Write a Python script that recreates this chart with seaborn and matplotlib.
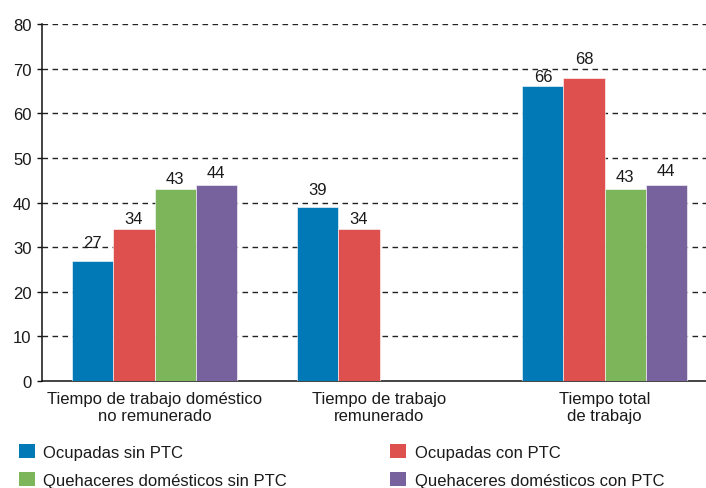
import pandas as pd
import matplotlib
matplotlib.use("Agg")
import matplotlib.pyplot as plt
from matplotlib.patches import Patch
import seaborn as sns

# ---- data -------------------------------------------------------------
categories = [
    "Tiempo de trabajo doméstico\nno remunerado",
    "Tiempo de trabajo\nremunerado",
    "Tiempo total\nde trabajo",
]
series = [
    "Ocupadas sin PTC",
    "Ocupadas con PTC",
    "Quehaceres domésticos sin PTC",
    "Quehaceres domésticos con PTC",
]
ocupadas_sin_ptc = [27, 39, 66]
ocupadas_con_ptc = [34, 34, 68]
quehaceres_sin_ptc = [43, None, 43]
quehaceres_con_ptc = [44, None, 44]
y_ticks = [0, 10, 20, 30, 40, 50, 60, 70, 80]

# ---- styling ----------------------------------------------------------
colors = ["#0079B6", "#DE504E", "#7CB55A", "#78629E"]
# space (px) between each bar top and the baseline of its value label
label_gap = [
    [14, 13, 5],
    [6, 6, 15],
    [6, None, 8],
    [8, None, 10],
]

sns.set_style("white")
plt.rcParams["font.family"] = ["Liberation Sans", "DejaVu Sans"]
text_color = "#1a1a1a"

values = [ocupadas_sin_ptc, ocupadas_con_ptc, quehaceres_sin_ptc, quehaceres_con_ptc]
rows = []
for s, vals in zip(series, values):
    for c, v in zip(categories, vals):
        if v is not None:
            rows.append({"categoria": c, "serie": s, "valor": v})
df = pd.DataFrame(rows)

W, H = 706, 489
fig = plt.figure(figsize=(W / 100, H / 100), dpi=100)
ax = fig.add_axes([42 / W, (H - 382) / H, (W - 42) / W, (382 - 25) / H])

sns.barplot(
    data=df, x="categoria", y="valor", hue="serie",
    order=categories, hue_order=series, palette=colors,
    width=0.73, dodge=True, saturation=1, errorbar=None,
    legend=False, ax=ax, edgecolor="#ffffff", linewidth=0.4, zorder=3,
)

ax.set_xlim(-0.5, -0.5 + (W - 42) / 225)
ax.set_ylim(0, 80)
ax.set_yticks(y_ticks)
ax.set_xticks(range(len(categories)))
ax.set_xticklabels(categories, fontsize=12, linespacing=1.2, color=text_color)
ax.set_xticks([-0.5, 0.5, 1.5], minor=True)
ax.tick_params(axis="x", which="major", length=0, pad=7)
ax.tick_params(axis="x", which="minor", length=4, width=1.0, direction="out",
               color="#111111")
ax.tick_params(axis="y", length=3.5, width=1.0, direction="out", color="#111111",
               labelsize=12, labelcolor=text_color, pad=4, left=True)
ax.set_xlabel("")
ax.set_ylabel("")

# dashed horizontal guides behind the bars
for t in y_ticks[1:]:
    ax.axhline(t, color="#222222", lw=1.0, dashes=(4.0, 3.2), zorder=1)

for side in ("top", "right"):
    ax.spines[side].set_visible(False)
for side in ("left", "bottom"):
    ax.spines[side].set_color("#111111")
    ax.spines[side].set_linewidth(1.1)

# value labels above each bar
for si, cont in enumerate(ax.containers):
    for bar in cont:
        h = bar.get_height()
        if h != h:  # NaN
            continue
        xc = bar.get_x() + bar.get_width() / 2
        ci = int(round(xc))
        gap = label_gap[si][ci]
        ax.annotate(f"{h:.0f}", (xc, h), xytext=(0, gap * 0.72),
                    textcoords="offset points", ha="center", va="baseline",
                    fontsize=12, color=text_color)

# legend: two rows, two columns
handles = [Patch(facecolor=c, edgecolor="none", label=s) for s, c in zip(series, colors)]
order = [0, 2, 1, 3]
fig.legend(
    [handles[i] for i in order], [series[i] for i in order],
    loc="upper left", bbox_to_anchor=(19 / W, 1 - 445 / H),
    ncol=2, frameon=False, fontsize=12, handlelength=0.96, handleheight=0.96,
    handletextpad=0.5, columnspacing=6.2, labelspacing=0.7, borderpad=0,
    borderaxespad=0, labelcolor=text_color,
)

fig.savefig("out.png", dpi=100)
